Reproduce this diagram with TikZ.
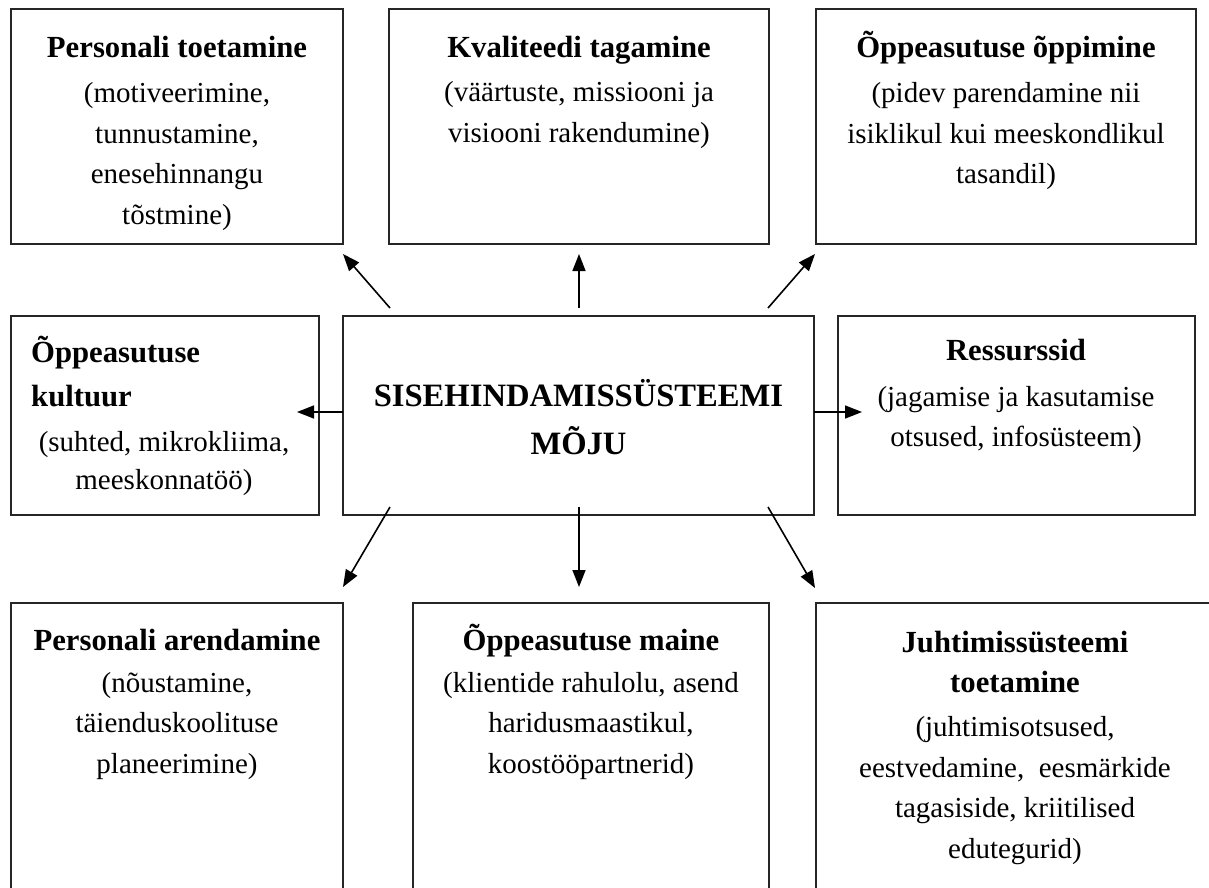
\documentclass[tikz,border=0pt]{standalone}
\usepackage{fontspec}
\setmainfont{Liberation Serif}
\usetikzlibrary{arrows.meta}
\newcommand{\toprl}{\rule{0pt}{30pt}}
\newcommand{\tb}[1]{{\bfseries\fontsize{30.7}{40.5}\selectfont #1}}
\tikzset{
  box/.style={draw=black!85, line width=1.7pt, anchor=north west, inner sep=0pt, outer sep=0pt},
  txt/.style={anchor=north, inner sep=0pt, align=center, font=\fontsize{29}{40.5}\selectfont},
  arr/.style={line width=1.6pt, -{Triangle[length=17pt,width=13pt]}},
}
\begin{document}
\begin{tikzpicture}[x=1pt,y=-1pt]
\useasboundingbox (0,0) rectangle (1209,888);
\fill[white] (0,0) rectangle (1209,888);
\clip (0,0) rectangle (1209,888);
% boxes
\node[box, minimum width=332pt, minimum height=235pt] (b1) at (11,9) {};
\node[box, minimum width=380pt, minimum height=235pt] (b2) at (389,9) {};
\node[box, minimum width=380pt, minimum height=235pt] (b3) at (816,9) {};
\node[box, minimum width=308pt, minimum height=199pt] (m1) at (11,316) {};
\node[box, minimum width=471pt, minimum height=199pt] (c) at (343,316) {};
\node[box, minimum width=357pt, minimum height=199pt] (m3) at (838,316) {};
\node[box, minimum width=332pt, minimum height=300pt] (d1) at (11,603) {};
\node[box, minimum width=356pt, minimum height=300pt] (d2) at (413,603) {};
\node[box, minimum width=398pt, minimum height=300pt] (d3) at (816,603) {};
% texts
\node[txt] (t1) at (177,27) {\toprl\tb{Personali toetamine}\\[5pt] (motiveerimine,\\ tunnustamine,\\ enesehinnangu\\ tõstmine)};
\node[txt] (t2) at (579,27) {\toprl\tb{Kvaliteedi tagamine}\\[4pt] (väärtuste, missiooni ja\\ visiooni rakendumine)};
\node[txt] (t3) at (1006,27) {\toprl\tb{Õppeasutuse õppimine}\\[5pt] (pidev parendamine nii\\ isiklikul kui meeskondlikul\\ tasandil)};
\node[anchor=north west, inner sep=0pt, align=left, font=\fontsize{29}{40.5}\selectfont] (t4) at (31,332) {\toprl\tb{Õppeasutuse}\\[3.5pt]\tb{kultuur}};
\node[txt, font=\fontsize{29}{38}\selectfont] (t4b) at (164,421) {\toprl(suhted, mikrokliima,\\ meeskonnatöö)};
\node[txt, font=\bfseries\fontsize{32.6}{48}\selectfont] (tc) at (578.5,376) {\toprl SISEHINDAMISSÜSTEEMI\\ MÕJU};
\node[txt] (t6) at (1016,330) {\toprl\tb{Ressurssid}\\[5.5pt] (jagamise ja kasutamise\\ otsused, infosüsteem)};
\node[txt] (t7) at (177,620) {\toprl\tb{Personali arendamine}\\[1.5pt] (nõustamine,\\ täienduskoolituse\\ planeerimine)};
\node[txt] (t8) at (591,620) {\toprl\tb{Õppeasutuse maine}\\[1.5pt] (klientide rahulolu, asend\\ haridusmaastikul,\\ koostööpartnerid)};
\node[txt] (t9) at (1015,622) {\toprl\tb{Juhtimissüsteemi}\\ \tb{toetamine}\\[3.5pt] (juhtimisotsused,\\ eestvedamine,~ eesmärkide\\ tagasiside, kriitilised\\ edutegurid)};
% arrow end points
\coordinate (s1) at (390,308); \coordinate (e1) at (343,254);
\coordinate (s2) at (579,308); \coordinate (e2) at (579,254);
\coordinate (s3) at (768,308); \coordinate (e3) at (815,254);
\coordinate (s4) at (343,412); \coordinate (e4) at (297,412);
\coordinate (s5) at (814,412); \coordinate (e5) at (862,412);
\coordinate (s6) at (390,507); \coordinate (e6) at (343,587);
\coordinate (s7) at (579,507); \coordinate (e7) at (579,587);
\coordinate (s8) at (768,507); \coordinate (e8) at (815,588);
\foreach \i in {1,...,8} { \draw[arr] (s\i) -- (e\i); }
\end{tikzpicture}
\end{document}
